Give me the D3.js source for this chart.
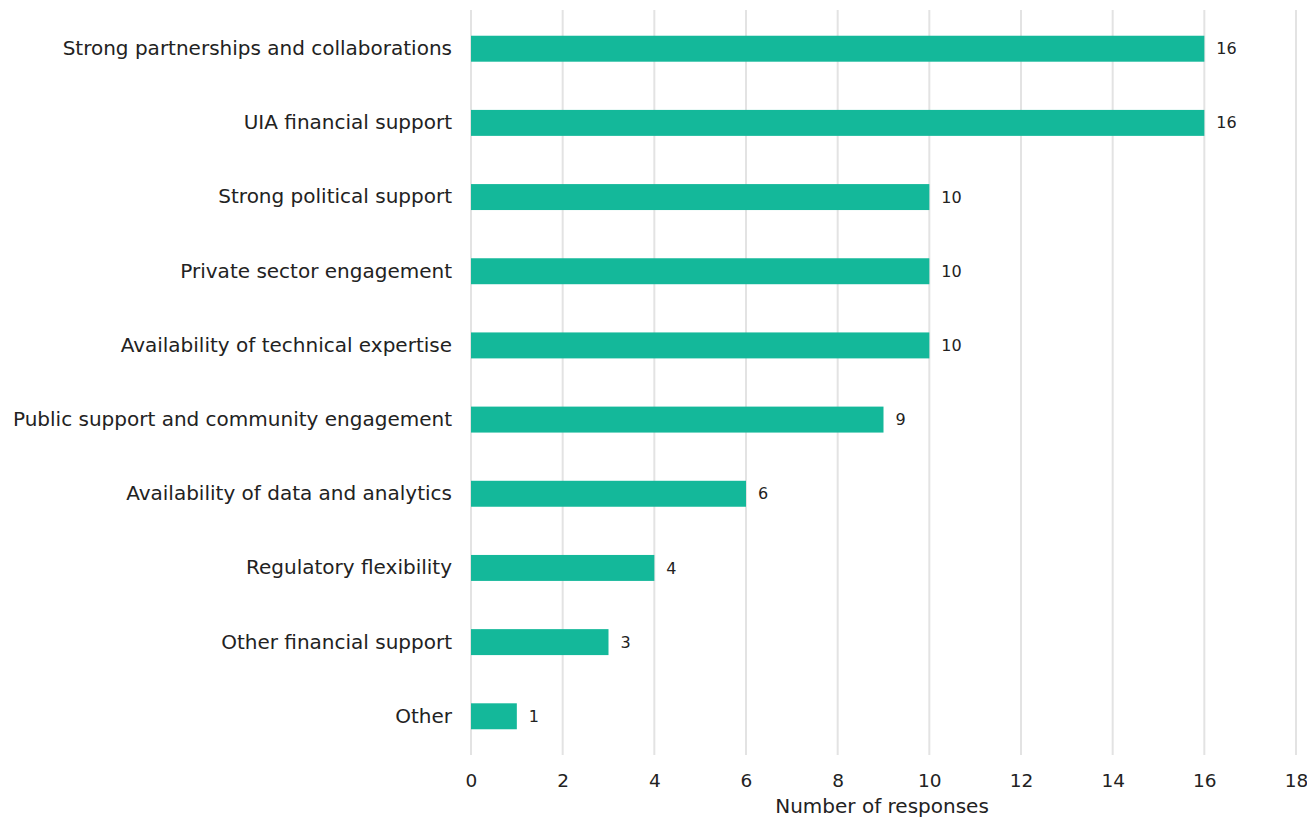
<!DOCTYPE html>
<html>
<head>
<meta charset="utf-8">
<script src="https://cdn.jsdelivr.net/npm/d3@7"></script>
<style>
  html, body { margin: 0; padding: 0; background: #fff; }
  svg { display: block; }
</style>
</head>
<body>
<svg id="chart" width="1307" height="819"></svg>
<script>
const categories = [
  "Strong partnerships and collaborations",
  "UIA financial support",
  "Strong political support",
  "Private sector engagement",
  "Availability of technical expertise",
  "Public support and community engagement",
  "Availability of data and analytics",
  "Regulatory flexibility",
  "Other financial support",
  "Other"
];
const responses = [16, 16, 10, 10, 10, 9, 6, 4, 3, 1];
const xTicks = [0, 2, 4, 6, 8, 10, 12, 14, 16, 18];
const xTitle = "Number of responses";

const svg = d3.select("#chart");
const font = "'DejaVu Sans', Verdana, sans-serif";
const plotLeft = 471, plotRight = 1296, plotTop = 12, plotBottom = 753;

const x = d3.scaleLinear().domain([0, 18]).range([plotLeft, plotRight]);
const y = d3.scaleBand().domain(categories).range([plotTop, plotBottom]).paddingInner(0.65).paddingOuter(0.32);

// vertical gridlines
svg.append("g").selectAll("line").data(xTicks).join("line")
  .attr("x1", d => x(d)).attr("x2", d => x(d))
  .attr("y1", 10).attr("y2", 755)
  .attr("stroke", "#e3e3e3").attr("stroke-width", 2);

// bars
svg.append("g").selectAll("rect").data(categories).join("rect")
  .attr("x", x(0))
  .attr("y", d => y(d))
  .attr("width", (d, i) => x(responses[i]) - x(0))
  .attr("height", y.bandwidth())
  .attr("fill", "#14b89a");

// value labels
svg.append("g").selectAll("text").data(categories).join("text")
  .attr("x", (d, i) => x(responses[i]) + 12)
  .attr("y", d => y(d) + y.bandwidth() / 2)
  .attr("dy", "0.35em")
  .attr("font-family", font).attr("font-size", 16).attr("fill", "#222")
  .text((d, i) => responses[i]);

// category axis
const yAxis = svg.append("g").attr("transform", `translate(${plotLeft},0)`)
  .call(d3.axisLeft(y).tickSize(0).tickPadding(19));
yAxis.select(".domain").remove();
yAxis.selectAll("text").attr("font-family", font).attr("font-size", 20).attr("fill", "#222");

// value axis
const xAxis = svg.append("g").attr("transform", `translate(0,${plotBottom})`)
  .call(d3.axisBottom(x).tickValues(xTicks).tickSize(0).tickPadding(21));
xAxis.select(".domain").remove();
xAxis.selectAll("text").attr("font-family", font).attr("font-size", 18.5).attr("fill", "#222");

svg.append("text")
  .attr("x", 882).attr("y", 813)
  .attr("text-anchor", "middle")
  .attr("font-family", font).attr("font-size", 20).attr("fill", "#222")
  .text(xTitle);
</script>
</body>
</html>
